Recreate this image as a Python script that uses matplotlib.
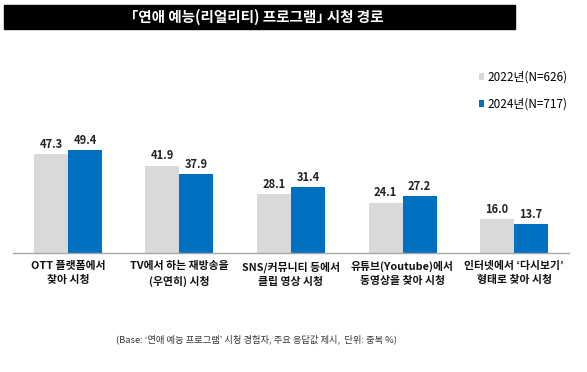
import matplotlib.pyplot as plt
from matplotlib.patches import Rectangle
import numpy as np

plt.rcParams['font.family'] = ['Noto Sans CJK KR', 'DejaVu Sans']

categories = ['OTT 플랫폼에서\n찾아 시청',
              'TV에서 하는 재방송을\n(우연히) 시청',
              'SNS/커뮤니티 등에서\n클립 영상 시청',
              '유튜브(Youtube)에서\n동영상을 찾아 시청',
              '인터넷에서 \u2018다시보기\u2019\n형태로 찾아 시청']
vals_2022 = [47.3, 41.9, 28.1, 24.1, 16.0]
vals_2024 = [49.4, 37.9, 31.4, 27.2, 13.7]
series_names = ['2022년(N=626)', '2024년(N=717)']

W, H = 587, 372
fig = plt.figure(figsize=(W / 100, H / 100), dpi=100)
ax = fig.add_axes([13 / W, (H - 252.7) / H, 556 / W, 124.8 / H])

x = np.arange(len(categories))
bw = 0.305
b1 = ax.bar(x - bw / 2, vals_2022, bw, color='#d9d9d9', label=series_names[0])
b2 = ax.bar(x + bw / 2, vals_2024, bw, color='#0070c0', label=series_names[1])

for bars, vals in ((b1, vals_2022), (b2, vals_2024)):
    for rect, v in zip(bars, vals):
        ax.text(rect.get_x() + rect.get_width() / 2, v + 1.5, f'{v:.1f}',
                ha='center', va='bottom', fontsize=8, fontweight='bold',
                color='#222222')

ax.set_xlim(-0.493, 4.493)
ax.set_ylim(0, 60)
ax.set_yticks([])
ax.set_xticks(x)
ax.set_xticklabels(categories, fontsize=7.8, fontweight='bold',
                   linespacing=1.5, color='#111111')
ax.tick_params(axis='x', length=0, pad=6)
for s in ['top', 'right', 'left']:
    ax.spines[s].set_visible(False)
ax.spines['bottom'].set_color('#a6a6a6')
ax.spines['bottom'].set_linewidth(1.0)

# title bar
fig.patches.append(Rectangle((4 / W, (H - 29) / H), 511 / W, 24 / H,
                             transform=fig.transFigure, color='black',
                             zorder=0))
fig.text(257 / W, (H - 17) / H, '\uff62연애 예능(리얼리티) 프로그램\uff63 시청 경로',
         ha='center', va='center', color='white', fontsize=10.5,
         fontweight='bold')

fig.legend(handles=[b1, b2], labels=series_names, loc='upper left',
           bbox_to_anchor=(468 / W, (H - 60) / H), frameon=False,
           fontsize=8.5, handlelength=0.45, handleheight=0.45,
           handletextpad=0.3, labelspacing=1.2)

fig.text(257 / W, (H - 339) / H,
         '(Base: \u2018연애 예능 프로그램\u2019 시청 경험자, 주요 응답값 제시,  단위: 중복 %)',
         ha='center', va='center', fontsize=6.7, color='#333333')

fig.savefig('out.png', dpi=100)
